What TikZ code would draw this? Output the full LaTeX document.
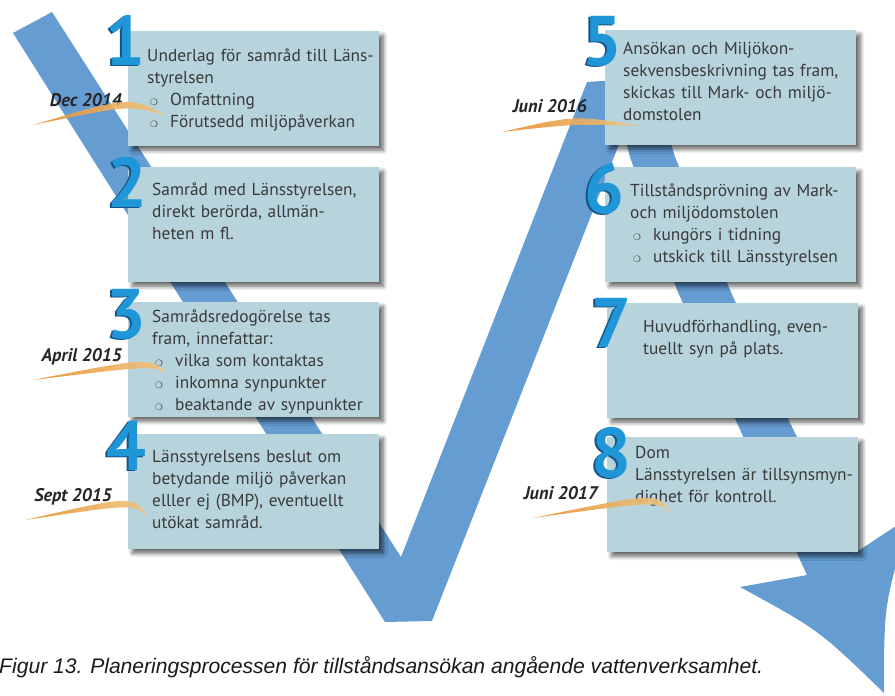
\documentclass[tikz,border=0pt]{standalone}
\usepackage{fontspec}
\setmainfont{PT Sans}
\newfontfamily\capfont{Liberation Sans}
\newfontfamily\symfont{DejaVu Sans}
\usetikzlibrary{calc,shadows.blur}

\definecolor{ribbon}{RGB}{101,157,211}
\definecolor{boxfill}{RGB}{183,211,220}
\definecolor{txtgray}{RGB}{58,58,58}
\definecolor{numblue}{RGB}{30,150,215}
\definecolor{numdark}{RGB}{22,84,135}
\definecolor{swooshA}{RGB}{232,140,40}
\definecolor{swooshB}{RGB}{238,198,130}

% bullet with the gap to the item text
\newcommand\bul{\makebox[19.6pt][l]{\hspace{2.5pt}{\symfont\fontsize{7.5pt}{7.5pt}\selectfont ❍}}}

% step number: dark copy behind, blue on top
\newcommand\stepnum[3]{%
  \node[numshade] at ([shift={(-2,1)}]#2) {#3};
  \node[numlbl] (#1) at (#2) {#3};}

% orange swoosh under a date: node, start, control, end (relative to base east)
\newcommand\swoosh[4]{%
  \shade[left color=swooshA, right color=swooshB, opacity=.9]
    ([shift={#2}]#1.base east) .. controls ([shift={#3}]#1.base east) .. ([shift={#4}]#1.base east)
    .. controls ([shift={#3},yshift=-7.5pt]#1.base east) .. ([shift={#2}]#1.base east) -- cycle;}

\tikzset{
  box/.style={fill=boxfill, minimum width=7.53cm, minimum height=3.45cm,
    anchor=north west, inner sep=0pt,
    blur shadow={shadow xshift=3.5pt, shadow yshift=-3.5pt,
      shadow blur radius=3.5pt, shadow blur steps=8, shadow opacity=60}},
  boxtext/.style={font=\fontsize{14.8pt}{18.8pt}\selectfont, text=txtgray,
    anchor=base west, inner sep=0pt, text width=8cm, align=left},
  numlbl/.style={font=\bfseries\fontsize{60pt}{60pt}\selectfont, text=numblue,
    anchor=base east, inner sep=0pt},
  numshade/.style={numlbl, text=numdark},
  datelbl/.style={font=\bfseries\itshape\fontsize{15.6pt}{16pt}\selectfont,
    text=black!85, anchor=base east, inner sep=0pt},
  caption/.style={font=\capfont\itshape\fontsize{18pt}{20pt}\selectfont,
    text=black!90, anchor=base west, inner sep=0pt}
}

\begin{document}
\begin{tikzpicture}[x=0.03cm,y=-0.03cm]
  \useasboundingbox (0,0) rectangle (895,695);

  % ribbon: down, up, down to the arrow head
  \fill[ribbon] (13,33) -- (52,12) -- (401,557) -- (587,82) -- (645,78)
    -- (432,621) -- (385,622) -- cycle;
  \fill[ribbon] (610,80) -- (630,157) -- (677,290) -- (737,423) -- (807,575)
    -- (740,587) .. controls (819,630) .. (884,693)
    .. controls (884,603) .. (911,516) -- (855,553)
    -- (790,423) -- (730,290) -- (675,157) -- (652,80) -- cycle;

  % boxes
  \node[box] (box1) at (128,31) {};
  \node[box] (box2) at (128,167) {};
  \node[box] (box3) at (128,302) {};
  \node[box] (box4) at (128,434) {};
  \node[box] (box5) at (605,30) {};
  \node[box] (box6) at (605,167) {};
  \node[box] (box7) at (607,303) {};
  \node[box] (box8) at (607,437) {};

  \node[boxtext] (txt1) at ([shift={(19,30)}]box1.north west)
    {Underlag för samråd till Läns-\\styrelsen\\\bul Omfattning\\\bul Förutsedd miljöpåverkan};
  \node[boxtext] (txt2) at ([shift={(24,28)}]box2.north west)
    {Samråd med Länsstyrelsen,\\direkt berörda, allmän-\\heten m fl.};
  \node[boxtext] (txt3) at ([shift={(24,20)}]box3.north west)
    {Samrådsredogörelse tas\\fram, innefattar:\\\bul vilka som kontaktas\\\bul inkomna synpunkter\\\bul beaktande av synpunkter};
  \node[boxtext] (txt4) at ([shift={(24,28)}]box4.north west)
    {Länsstyrelsens beslut om\\betydande miljö påverkan\\elller ej (BMP), eventuellt\\utökat samråd.};
  \node[boxtext] (txt5) at ([shift={(18,24)}]box5.north west)
    {Ansökan och Miljökon-\\sekvensbeskrivning tas fram,\\skickas till Mark- och miljö-\\domstolen};
  \node[boxtext] (txt6) at ([shift={(25,29)}]box6.north west)
    {Tillståndsprövning av Mark-\\och miljödomstolen\\\bul kungörs i tidning\\\bul utskick till Länsstyrelsen};
  \node[boxtext] (txt7) at ([shift={(36,29)}]box7.north west)
    {Huvudförhandling, even-\\tuellt syn på plats.};
  \node[boxtext] (txt8) at ([shift={(28,21)}]box8.north west)
    {Dom\\Länsstyrelsen är tillsynsmyn-\\dighet för kontroll.};

  % step numbers
  \stepnum{num1}{146,65}{1}
  \stepnum{num2}{148,207}{2}
  \stepnum{num3}{147,338}{3}
  \stepnum{num4}{147,470}{4}
  \stepnum{num5}{623,65}{5}
  \stepnum{num6}{625,213}{6}
  \stepnum{num7}{632,347}{7}
  \stepnum{num8}{632,477}{8}

  % dates
  \node[datelbl] (date1) at (122,106) {Dec 2014};
  \node[datelbl] (date2) at (122,361) {April 2015};
  \node[datelbl] (date3) at (112,501) {Sept 2015};
  \node[datelbl] (date4) at (587,112) {Juni 2016};
  \node[datelbl] (date5) at (598,499) {Juni 2017};

  \swoosh{date1}{(-89,19)}{(8,-10)}{(45,10)}
  \swoosh{date2}{(-89,19)}{(28,-4)}{(45,12)}
  \swoosh{date3}{(-87,19)}{(21,-6)}{(36,16)}
  \swoosh{date4}{(-85,20)}{(-12,3)}{(53,14)}
  \swoosh{date5}{(-65,19)}{(60,-7)}{(72,14)}

  \node[caption] (cap) at (-1,673)
    {Figur 13. Planeringsprocessen för tillståndsansökan angående vattenverksamhet.};
\end{tikzpicture}
\end{document}
